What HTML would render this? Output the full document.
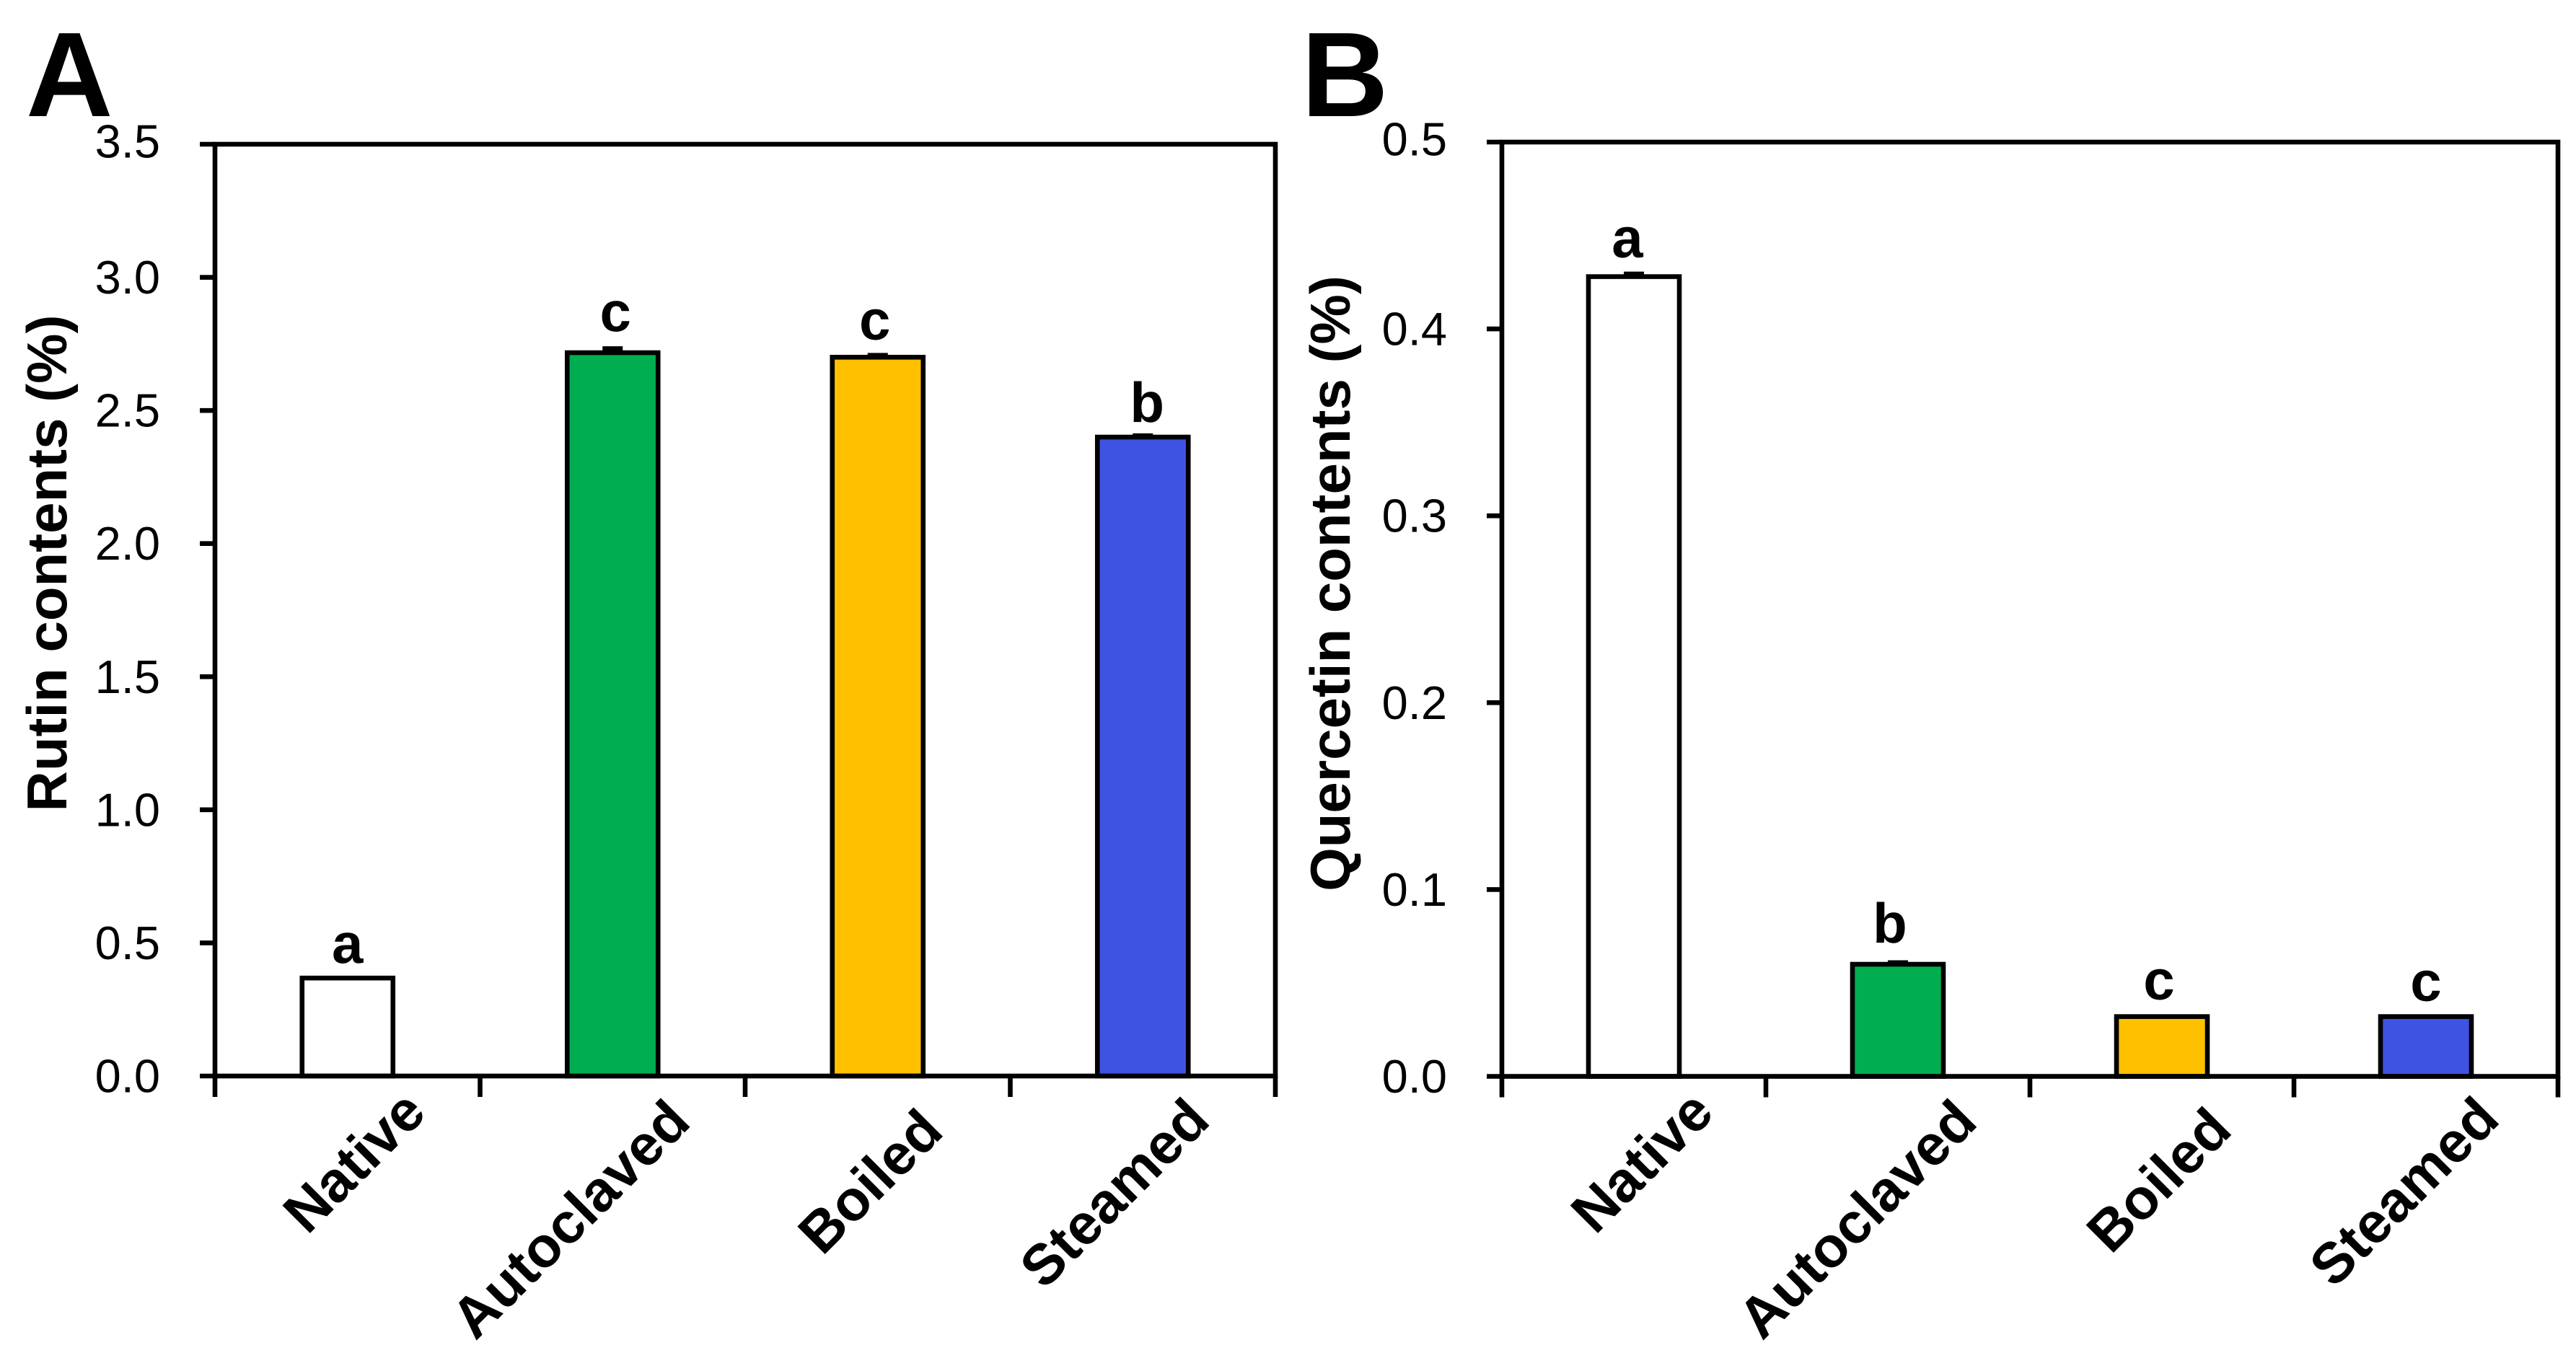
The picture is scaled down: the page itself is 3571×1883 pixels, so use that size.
<!DOCTYPE html>
<html lang="en">
<head>
<meta charset="utf-8">
<title>Rutin and quercetin contents</title>
<style>
html,body{margin:0;padding:0;background:#fff;}
svg{display:block;}
text{font-family:"Liberation Sans",Arial,sans-serif;fill:#000;}
</style>
</head>
<body>
<svg id="figure" xmlns="http://www.w3.org/2000/svg" width="3571" height="1883" viewBox="0 0 3571 1883">
<rect width="3571" height="1883" fill="#ffffff"/>
</svg>
<script>
var categories = ['Native', 'Autoclaved', 'Boiled', 'Steamed'];
var barColors = ['#ffffff', '#00ae50', '#ffc000', '#3f53e3'];

var rutinValues = [0.368, 2.717, 2.70, 2.40];
var rutinErrors = [0.0, 0.016, 0.008, 0.006];
var rutinLetters = ['a', 'c', 'c', 'b'];
var rutinTicks = ['0.0', '0.5', '1.0', '1.5', '2.0', '2.5', '3.0', '3.5'];

var quercetinValues = [0.428, 0.06, 0.032, 0.032];
var quercetinErrors = [0.0015, 0.001, 0.0, 0.0];
var quercetinLetters = ['a', 'b', 'c', 'c'];
var quercetinTicks = ['0.0', '0.1', '0.2', '0.3', '0.4', '0.5'];

var NS = 'http://www.w3.org/2000/svg';
var svg = document.getElementById('figure');

function make(tag, attrs, parent, text) {
  var el = document.createElementNS(NS, tag);
  for (var k in attrs) { el.setAttribute(k, attrs[k]); }
  if (text !== undefined) { el.textContent = text; }
  parent.appendChild(el);
  return el;
}

function drawPanel(p) {
  var group = make('g', {}, svg);
  
  

  var maxTick = parseFloat(p.ticks[p.ticks.length - 1]);
  function yScale(v) { return p.bottom - (p.bottom - p.top) * v / maxTick; }
  var band = (p.right - p.left) / p.categories.length;
  function xCenter(i) { return p.left + band * (i + 0.5); }
  var sw = 6.6;

  // panel letter
  var letter = make('text', {x: p.letterX, y: 161, 'font-size': 167, 'font-weight': 'bold'}, group, p.letter);
  
  

  // bars
  p.values.forEach(function (v, i) {
    var cx = xCenter(i), w = 126, yTop = yScale(v);
    var errTop = yScale(v + p.errors[i]);
    if (p.errors[i] > 0) {
      var err = make('path', {
        d: 'M' + (cx - 14) + ' ' + errTop + 'H' + (cx + 14) + 'M' + cx + ' ' + errTop + 'V' + yTop,
        stroke: '#000', 'stroke-width': 6, fill: 'none'
      }, group);
      
      
    }
    var bar = make('rect', {
      x: cx - w / 2, y: yTop, width: w, height: p.bottom - yTop,
      fill: barColors[i], stroke: '#000', 'stroke-width': sw
    }, group);
    
    

    var sig = make('text', {
      x: cx + p.sigDx[i], y: yTop - 24 + p.sigDy[i],
      'font-size': 78, 'font-weight': 'bold', 'text-anchor': 'middle'
    }, group, p.letters[i]);
    
    
  });

  // frame
  var frame = make('rect', {
    x: p.left, y: p.top, width: p.right - p.left, height: p.bottom - p.top,
    fill: 'none', stroke: '#000', 'stroke-width': sw
  }, group);
  
  

  // y ticks
  p.ticks.forEach(function (t) {
    var v = parseFloat(t), y = yScale(v);
    var tick = make('line', {x1: p.left - 21, x2: p.left, y1: y, y2: y, stroke: '#000', 'stroke-width': sw}, group);
    
    
    var lab = make('text', {
      x: p.tickLabelX, y: y + (v === maxTick ? 18.5 : 22.5),
      'font-size': 65, 'text-anchor': 'end'
    }, group, t);
    
    
  });

  // x ticks
  for (var i = 0; i <= p.categories.length; i++) {
    var x = p.left + band * i;
    var xt = make('line', {x1: x, x2: x, y1: p.bottom, y2: p.bottom + 29, stroke: '#000', 'stroke-width': sw}, group);
    
    
  }

  // x labels
  p.categories.forEach(function (c, i) {
    var ax = xCenter(i) + p.labelDx[i], ay = p.labelY[i];
    var lab = make('text', {
      x: ax, y: ay, 'font-size': 79, 'font-weight': 'bold', 'text-anchor': 'end',
      transform: 'rotate(-45 ' + ax + ' ' + ay + ')'
    }, group, c);
    
    
  });

  // y title
  var title = make('text', {
    x: p.titleX, y: p.titleY, 'font-size': 78, 'font-weight': 'bold', 'text-anchor': 'middle',
    transform: 'rotate(-90 ' + p.titleX + ' ' + p.titleY + ')'
  }, group, p.title);
  
  
}

drawPanel({
  name: 'panel-a-rutin', letter: 'A', letterX: 36, title: 'Rutin contents (%)',
  titleX: 92, titleY: 781, categories: categories,
  values: rutinValues, errors: rutinErrors, letters: rutinLetters, ticks: rutinTicks,
  left: 298, right: 1768, top: 200, bottom: 1492, tickLabelX: 222,
  sigDx: [0, 4, -4, 6], sigDy: [3, -6, -1, 3],
  labelDx: [112, 111, 94, 96], labelY: [1546, 1559, 1572, 1557]
});
drawPanel({
  name: 'panel-b-quercetin', letter: 'B', letterX: 1804, title: 'Quercetin contents (%)',
  titleX: 1871, titleY: 809, categories: categories,
  values: quercetinValues, errors: quercetinErrors, letters: quercetinLetters, ticks: quercetinTicks,
  left: 2082, right: 3546, top: 197, bottom: 1492.5, tickLabelX: 2006,
  sigDx: [-9, -11, -4, 0], sigDy: [-3, -6, 0, 2],
  labelDx: [114, 113, 100, 105], labelY: [1546, 1559, 1570, 1555]
});
</script>
</body>
</html>
